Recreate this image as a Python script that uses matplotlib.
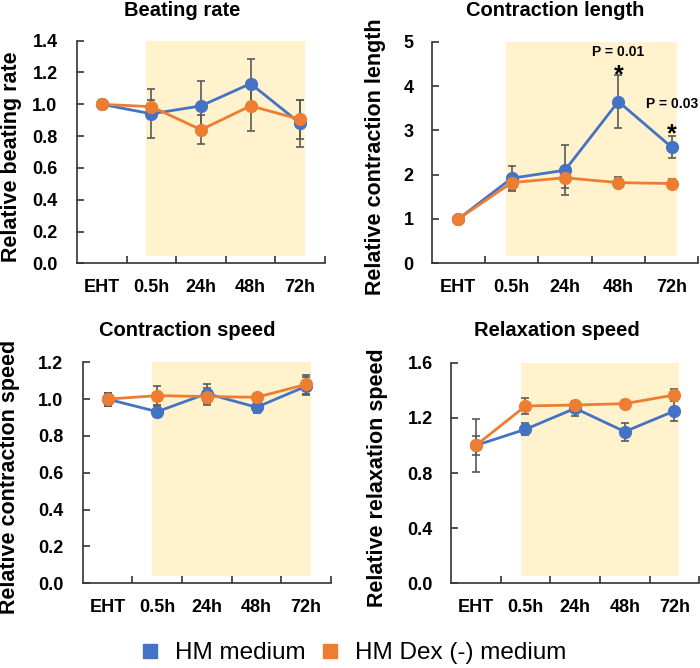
import matplotlib
matplotlib.use('Agg')
import matplotlib.pyplot as plt
from matplotlib.lines import Line2D

plt.rcParams['font.family'] = ['Liberation Sans', 'DejaVu Sans']

time_labels = ['EHT', '0.5h', '24h', '48h', '72h']

beat_hm = [1.00, 0.94, 0.99, 1.13, 0.88]
beat_hm_err = [0.03, 0.155, 0.155, 0.155, 0.15]
beat_dex = [1.00, 0.985, 0.84, 0.99, 0.905]
beat_dex_err = [0.03, 0.04, 0.09, 0.155, 0.125]

len_hm = [1.00, 1.92, 2.10, 3.65, 2.62]
len_hm_err = [0.02, 0.28, 0.57, 0.60, 0.25]
len_dex = [1.00, 1.82, 1.93, 1.82, 1.80]
len_dex_err = [0.02, 0.17, 0.24, 0.13, 0.10]

cs_hm = [1.00, 0.932, 1.03, 0.956, 1.07]
cs_hm_err = [0.036, 0.03, 0.05, 0.03, 0.05]
cs_dex = [1.00, 1.019, 1.014, 1.01, 1.08]
cs_dex_err = [0.036, 0.05, 0.046, 0.02, 0.05]

rs_hm = [1.00, 1.117, 1.269, 1.10, 1.25]
rs_hm_err = [0.195, 0.045, 0.055, 0.065, 0.07]
rs_dex = [1.00, 1.286, 1.293, 1.303, 1.366]
rs_dex_err = [0.07, 0.058, 0.03, 0.025, 0.045]

blue = '#4472C4'
orange = '#ED7D31'
shade = '#FFF2CC'
errc = '#595959'

W, H = 700, 668
fig = plt.figure(figsize=(7, 6.68), dpi=100)


def px_axes(l, r, t, b):
    return fig.add_axes([l / W, 1 - b / H, (r - l) / W, (b - t) / H])


def panel(ax, hm, hm_err, dex, dex_err, ymax, yticks, fmt, title, ylabel,
          label_x, title_xy, ypad):
    x = list(range(len(time_labels)))
    ax.axvspan(0.9, 4.1, ymin=0.033, ymax=1, color=shade, lw=0, zorder=0)
    for vals, err, col in [(hm, hm_err, blue), (dex, dex_err, orange)]:
        ax.errorbar(x, vals, yerr=err, fmt='none', ecolor=errc, elinewidth=1.2,
                    capsize=3, capthick=1.2, zorder=2)
        ax.plot(x, vals, color=col, lw=2, marker='o', ms=8.5, zorder=3)
    ax.set_xlim(-0.5, 4.5)
    ax.set_ylim(0, ymax)
    ax.set_yticks(yticks)
    ax.set_yticklabels([fmt.format(v) for v in yticks])
    ax.set_xticks([0.5, 1.5, 2.5, 3.5, 4.5])
    ax.set_xticklabels([])
    ax.set_xticks(x, minor=True)
    ax.set_xticklabels(time_labels, minor=True)
    ax.tick_params(axis='both', which='major', direction='in', length=5,
                   width=1.2, color='#333333')
    ax.tick_params(axis='x', which='minor', length=0, pad=11)
    ax.tick_params(axis='y', pad=ypad)
    ax.tick_params(which='both', labelsize=13)
    for lab in ax.get_xticklabels(minor=True) + ax.get_yticklabels():
        lab.set_fontweight('bold')
    for s in ['top', 'right']:
        ax.spines[s].set_visible(False)
    for s in ['left', 'bottom']:
        ax.spines[s].set_linewidth(1.2)
        ax.spines[s].set_color('#333333')
    ax.set_ylabel(ylabel, fontsize=15.5, fontweight='bold')
    ax.yaxis.set_label_coords(label_x, 0.48)
    fig.text(title_xy[0] / W, 1 - title_xy[1] / H, title, fontsize=14.5,
             fontweight='bold', ha='center', va='center')


ax1 = px_axes(77, 325, 40.7, 263.3)
panel(ax1, beat_hm, beat_hm_err, beat_dex, beat_dex_err, 1.4,
      [0, 0.2, 0.4, 0.6, 0.8, 1.0, 1.2, 1.4], '{:.1f}', 'Beating rate',
      'Relative beating rate', -0.222, (182, 11), 14)

ax2 = px_axes(431.7, 698.3, 41.7, 263.3)
panel(ax2, len_hm, len_hm_err, len_dex, len_dex_err, 5,
      [0, 1, 2, 3, 4, 5], '{:.0f}', 'Contraction length',
      'Relative contraction length', -0.171, (555, 11), 13)
ax2.text(3, 4.77, 'P = 0.01', fontsize=10, fontweight='bold', ha='center', va='center')
ax2.text(3, 4.25, '*', fontsize=18, fontweight='bold', ha='center', va='center')
ax2.text(4.0, 3.6, 'P = 0.03', fontsize=10, fontweight='bold', ha='center', va='center')
ax2.text(4.0, 2.9, '*', fontsize=18, fontweight='bold', ha='center', va='center')

ax3 = px_axes(82.7, 331, 362.3, 583.3)
panel(ax3, cs_hm, cs_hm_err, cs_dex, cs_dex_err, 1.2,
      [0, 0.2, 0.4, 0.6, 0.8, 1.0, 1.2], '{:.1f}', 'Contraction speed',
      'Relative contraction speed', -0.252, (187, 330), 14)

ax4 = px_axes(451, 699.3, 362.7, 583.3)
panel(ax4, rs_hm, rs_hm_err, rs_dex, rs_dex_err, 1.6,
      [0, 0.4, 0.8, 1.2, 1.6], '{:.1f}', 'Relaxation speed',
      'Relative relaxation speed', -0.254, (557, 330), 13)

handles = [Line2D([], [], marker='s', color=blue, ls='none', ms=10),
           Line2D([], [], marker='s', color=orange, ls='none', ms=10)]
fig.legend(handles, ['HM medium', 'HM Dex (-) medium'], loc='center',
           bbox_to_anchor=(0.503, 1 - 653 / H), ncol=2, frameon=False,
           fontsize=17.5, handletextpad=0.55, columnspacing=0.5,
           handlelength=1.0)

fig.savefig('out.png', dpi=100)
